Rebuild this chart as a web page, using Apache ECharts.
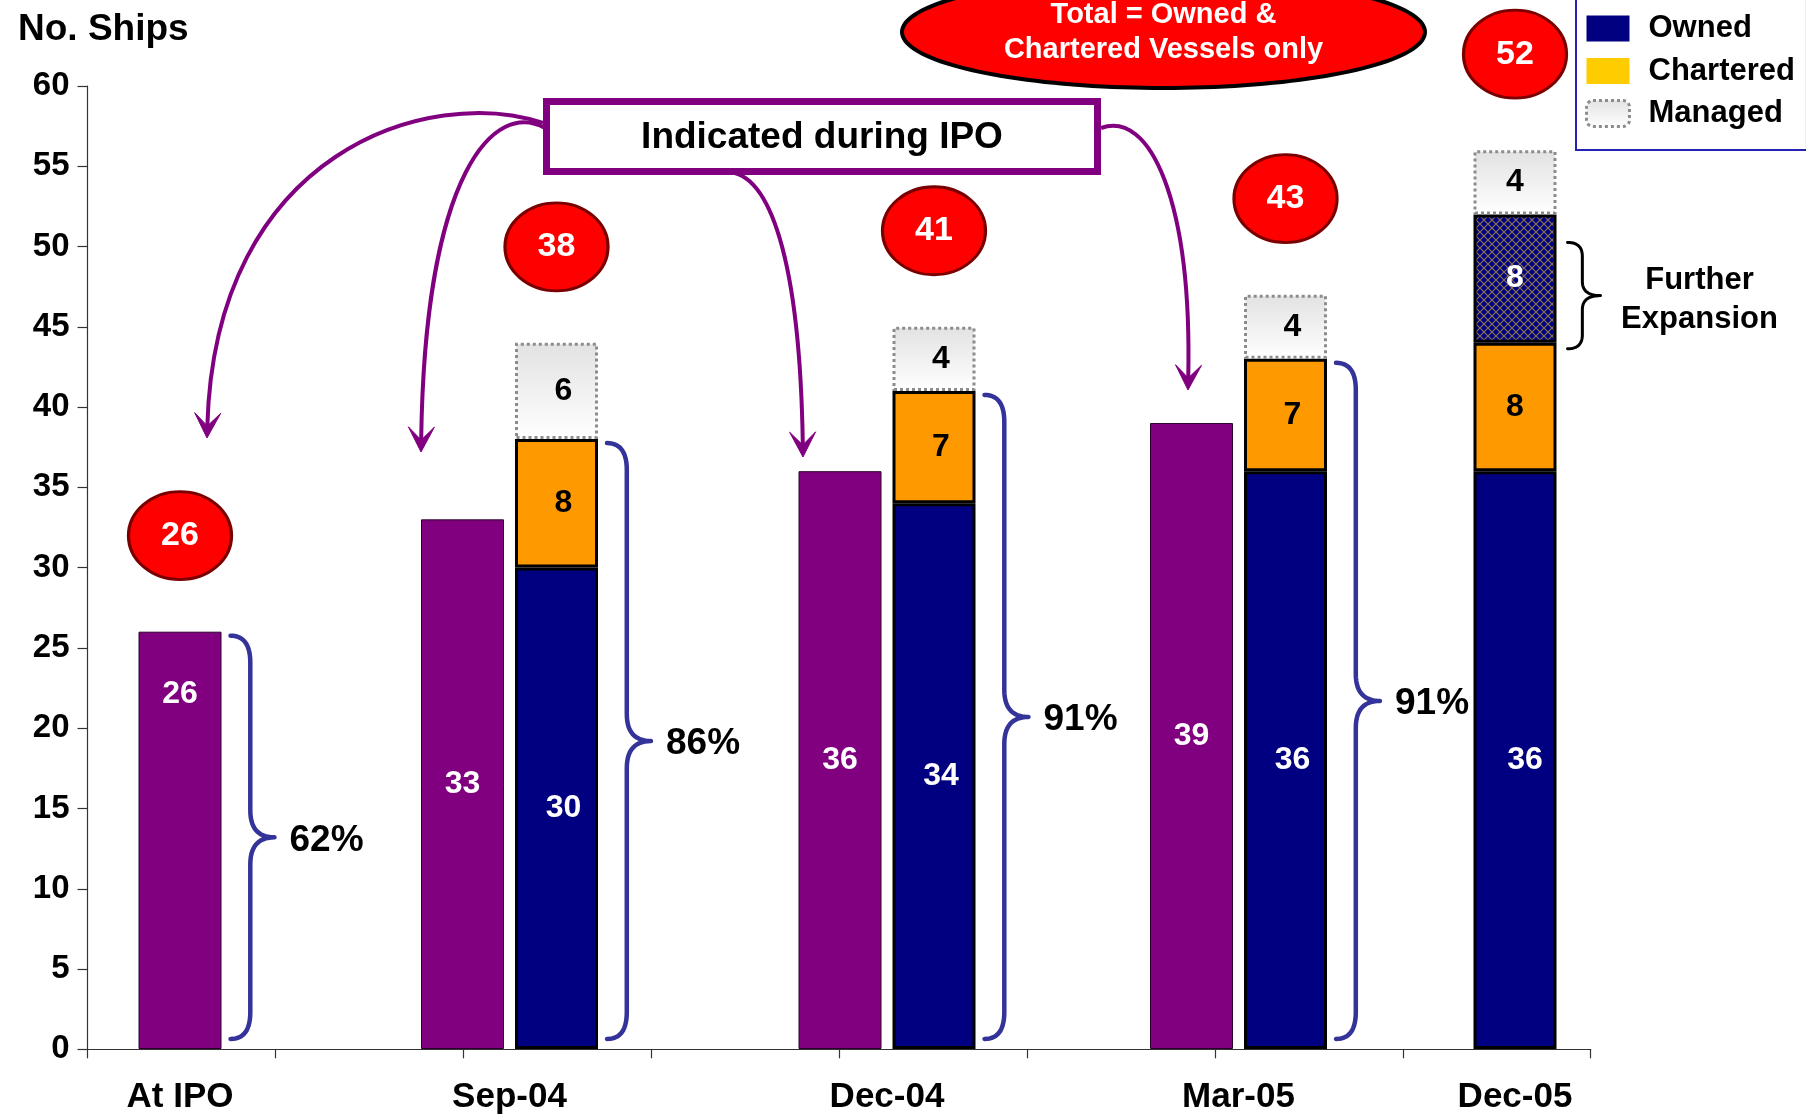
<!DOCTYPE html>
<html>
<head>
<meta charset="utf-8">
<title>No. Ships</title>
<script src="https://cdn.jsdelivr.net/npm/echarts@6/dist/echarts.min.js"></script>
<style>
  html, body { margin: 0; padding: 0; background: #ffffff; }
  #chart { width: 1806px; height: 1115px; }
</style>
</head>
<body>
<div id="chart"></div>
<script>
// ---- data -------------------------------------------------------------
const categories = ['At IPO', 'Sep-04', 'Dec-04', 'Mar-05', 'Dec-05'];
const indicatedDuringIpo = [26, 33, 36, 39, null];
const owned = [null, 30, 34, 36, 36];
const chartered = [null, 8, 7, 7, 8];
const furtherExpansion = [null, null, null, null, 8];
const managed = [null, 6, 4, 4, 4];
const ownedShare = ['62%', '86%', '91%', '91%', null];
const yMin = 0, yMax = 60, yStep = 5;

// ---- layout & style ---------------------------------------------------
const FONT = '"Liberation Sans", Arial, Helvetica, sans-serif';
const PLOT_TOP = 86;
const PLOT_BOTTOM = 1115 - 1049.3;
const BAR_W = 83;
const BAR_GAP = 11;
const SLOT = 300;
// x centre of each date's group of bars (one grid per date)
const groupCentre = [180, 509.5, 887, 1238.5, 1515];
const CIRCLE_LIFT = 96;

const PURPLE = '#800080';
const NAVY = '#000080';
const ORANGE = '#FF9900';
const BRACE_BLUE = '#333399';

const managedFill = {
  type: 'linear', x: 0, y: 0, x2: 0, y2: 1,
  colorStops: [{ offset: 0, color: '#e2e2e2' }, { offset: 1, color: '#ffffff' }]
};

// cross-hatched navy fill for the further-expansion block
const hatch = document.createElement('canvas');
hatch.width = 8; hatch.height = 8;
(function () {
  const c = hatch.getContext('2d');
  c.fillStyle = NAVY; c.fillRect(0, 0, 8, 8);
  c.strokeStyle = '#8a7550'; c.lineWidth = 1.2;
  c.beginPath();
  c.moveTo(0, 0); c.lineTo(8, 8);
  c.moveTo(8, 0); c.lineTo(0, 8);
  c.stroke();
})();

const hasValue = v => v !== null && v !== undefined;
const stackTop = i => hasValue(owned[i])
  ? owned[i] + chartered[i] + (furtherExpansion[i] || 0) + (managed[i] || 0)
  : indicatedDuringIpo[i];
const fleetTotal = i => hasValue(owned[i])
  ? owned[i] + chartered[i] + (furtherExpansion[i] || 0)
  : indicatedDuringIpo[i];

// curly brace opening to the right, sampled as a polyline
function bracePoints(x0, yTop, yBot, w, r) {
  const xv = x0 + w * 0.45, xt = x0 + w, mid = (yTop + yBot) / 2;
  const pts = [];
  const quad = (p0, c, p1) => {
    for (let k = 0; k <= 14; k++) {
      const t = k / 14, u = 1 - t;
      pts.push([u * u * p0[0] + 2 * u * t * c[0] + t * t * p1[0],
                u * u * p0[1] + 2 * u * t * c[1] + t * t * p1[1]]);
    }
  };
  quad([x0, yTop], [xv, yTop], [xv, yTop + r]);
  quad([xv, mid - r], [xv, mid], [xt, mid]);
  quad([xt, mid], [xv, mid], [xv, mid + r]);
  quad([xv, yBot - r], [xv, yBot], [x0, yBot]);
  return pts;
}

const labelBase = { show: true, fontFamily: FONT, fontWeight: 'bold', fontSize: 32 };

// ---- frame grid: y axis and the tick-marked base line -------------------
const grid = [{ left: 87.5, right: 1806 - 1590.7, top: PLOT_TOP, bottom: PLOT_BOTTOM }];
const xAxis = [{
  gridIndex: 0, type: 'value', min: 0, max: 8, interval: 1,
  axisLine: { show: true, lineStyle: { color: '#333333', width: 1.2 } },
  axisTick: { show: true, length: 9, lineStyle: { color: '#333333', width: 1.2 } },
  axisLabel: { show: false }, splitLine: { show: false }
}];
const yAxis = [{
  gridIndex: 0, type: 'value', min: yMin, max: yMax, interval: yStep,
  axisLine: { show: true, lineStyle: { color: '#333333', width: 1.2 } },
  axisTick: { show: true, length: 10, lineStyle: { color: '#333333', width: 1.2 } },
  axisLabel: { fontFamily: FONT, fontSize: 33, fontWeight: 'bold', color: '#000', margin: 18 },
  splitLine: { show: false }
}];
const series = [];

categories.forEach((cat, i) => {
  const g = i + 1;
  const hasIpo = hasValue(indicatedDuringIpo[i]);
  const hasFleet = hasValue(owned[i]);
  const both = hasIpo && hasFleet;
  grid.push({ left: groupCentre[i] - SLOT / 2, width: SLOT, top: PLOT_TOP, bottom: PLOT_BOTTOM });
  xAxis.push({
    gridIndex: g, type: 'category', data: [cat],
    axisLine: { show: false }, axisTick: { show: false },
    axisLabel: { fontFamily: FONT, fontSize: 35, fontWeight: 'bold', color: '#000', margin: 31 }
  });
  yAxis.push({ gridIndex: g, type: 'value', min: yMin, max: yMax, show: false });
  const ax = { xAxisIndex: g, yAxisIndex: g };
  const barCommon = { type: 'bar', barWidth: BAR_W, barGap: (BAR_GAP / BAR_W * 100) + '%', z: 2 };

  if (hasIpo) {
    series.push(Object.assign({}, ax, barCommon, {
      name: 'Indicated during IPO', stack: 'ipo' + i,
      itemStyle: { color: PURPLE, borderColor: '#2b002b', borderWidth: 1 },
      label: Object.assign({}, labelBase, { position: 'inside', color: '#fff' }),
      data: [i === 0
        ? { value: indicatedDuringIpo[i], label: { position: 'insideTop', distance: 46 } }
        : indicatedDuringIpo[i]]
    }));
  }
  if (hasFleet) {
    const fleetLabel = (color, dx) => Object.assign({}, labelBase, { position: 'inside', color, offset: [dx, 0] });
    series.push(Object.assign({}, ax, barCommon, {
      name: 'Owned', stack: 'fleet' + i,
      itemStyle: { color: NAVY, borderColor: '#000', borderWidth: 3 },
      label: fleetLabel('#fff', both ? 7 : 10),
      data: [owned[i]]
    }));
    series.push(Object.assign({}, ax, barCommon, {
      name: 'Chartered', stack: 'fleet' + i,
      itemStyle: { color: ORANGE, borderColor: '#000', borderWidth: 3 },
      label: fleetLabel('#000', both ? 7 : 0),
      data: [chartered[i]]
    }));
    if (hasValue(furtherExpansion[i])) {
      series.push(Object.assign({}, ax, barCommon, {
        name: 'Further Expansion', stack: 'fleet' + i,
        itemStyle: { color: { image: hatch, repeat: 'repeat' }, borderColor: '#000', borderWidth: 3 },
        label: fleetLabel('#fff', 0),
        data: [furtherExpansion[i]]
      }));
    }
    series.push(Object.assign({}, ax, barCommon, {
      name: 'Managed', stack: 'fleet' + i,
      itemStyle: { color: managedFill, borderColor: '#8c8c8c', borderWidth: 3, borderType: 'dotted' },
      label: fleetLabel('#000', both ? 7 : 0),
      data: [managed[i]]
    }));
  }

  // red total badge above the fleet column
  const sideShift = both ? (BAR_GAP + BAR_W) / 2 : 0;
  series.push(Object.assign({}, ax, {
    type: 'scatter', name: 'Total', z: 5, silent: true,
    symbol: 'circle', symbolSize: [103, 88], symbolOffset: [sideShift, -CIRCLE_LIFT],
    itemStyle: { color: '#FF0000', borderColor: '#7a0000', borderWidth: 3, opacity: 1 },
    label: {
      show: true, position: 'inside', color: '#fff', fontFamily: FONT, fontWeight: 'bold', fontSize: 34,
      formatter: () => String(fleetTotal(i))
    },
    data: [stackTop(i)]
  }));

  // brace showing the owned share
  if (ownedShare[i]) {
    const braceTop = hasFleet ? owned[i] + chartered[i] : indicatedDuringIpo[i];
    const rightEdge = both ? BAR_GAP / 2 + BAR_W : BAR_W / 2;
    series.push(Object.assign({}, ax, {
      type: 'custom', name: 'Owned share', z: 3, silent: true, clip: false,
      data: [[0, braceTop]],
      renderItem: (params, api) => {
        const t = api.coord([api.value(0), api.value(1)]);
        const b = api.coord([api.value(0), 0]);
        const x0 = t[0] + rightEdge + 9, w = 44;
        const yTop = t[1] + 4, yBot = b[1] - 10;
        return {
          type: 'group', children: [
            { type: 'polyline', shape: { points: bracePoints(x0, yTop, yBot, w, 27) },
              style: { stroke: BRACE_BLUE, lineWidth: 4.5, fill: 'none', lineJoin: 'round', lineCap: 'round' } },
            { type: 'text', x: x0 + w + 15, y: (yTop + yBot) / 2 + 3,
              style: { text: ownedShare[i], fill: '#000', font: 'bold 37px ' + FONT,
                       align: 'left', verticalAlign: 'middle', textAlign: 'left', textVerticalAlign: 'middle' } }
          ]
        };
      }
    }));
  }

  // brace marking the further-expansion block
  if (hasValue(furtherExpansion[i])) {
    const low = owned[i] + chartered[i];
    const high = low + furtherExpansion[i];
    const rightEdge = both ? BAR_GAP / 2 + BAR_W : BAR_W / 2;
    series.push(Object.assign({}, ax, {
      type: 'custom', name: 'Further Expansion note', z: 3, silent: true, clip: false,
      data: [[0, low, high]],
      renderItem: (params, api) => {
        const lo = api.coord([api.value(0), api.value(1)]);
        const hi = api.coord([api.value(0), api.value(2)]);
        const x0 = lo[0] + rightEdge + 11, w = 33;
        const yTop = hi[1] + 28, yBot = lo[1] + 6;
        return {
          type: 'group', children: [
            { type: 'polyline', shape: { points: bracePoints(x0, yTop, yBot, w, 14) },
              style: { stroke: '#000', lineWidth: 3, fill: 'none', lineJoin: 'round', lineCap: 'round' } },
            { type: 'text', x: x0 + w + 99, y: (yTop + yBot) / 2 + 4,
              style: { text: 'Further\nExpansion', fill: '#000', font: 'bold 31px ' + FONT, lineHeight: 39,
                       align: 'center', verticalAlign: 'middle', textAlign: 'center', textVerticalAlign: 'middle' } }
          ]
        };
      }
    }));
  }
});

// ---- annotations: "Indicated during IPO" call-out with arrows ------------
const ARROW = PURPLE;
const arrowDefs = [
  { p0: [543, 123], c1: [430, 85], c2: [215, 150], tip: [207, 438] },
  { p0: [545, 128], c1: [495, 100], c2: [425, 170], tip: [421, 452] },
  { p0: [725, 172], c1: [770, 170], c2: [800, 260], tip: [803, 457] },
  { p0: [1101, 128], c1: [1150, 110], c2: [1192, 200], tip: [1188, 390] }
];
const graphics = [];
arrowDefs.forEach(a => {
  const dx = a.tip[0] - a.c2[0], dy = a.tip[1] - a.c2[1];
  const len = Math.hypot(dx, dy), ux = dx / len, uy = dy / len;
  const nx = -uy, ny = ux;
  const L = 25, W = 13, N = 12;
  const end = [a.tip[0] - ux * N, a.tip[1] - uy * N];
  graphics.push({
    type: 'bezierCurve', z: 50, silent: true,
    shape: { x1: a.p0[0], y1: a.p0[1], cpx1: a.c1[0], cpy1: a.c1[1], cpx2: a.c2[0], cpy2: a.c2[1], x2: end[0], y2: end[1] },
    style: { stroke: ARROW, lineWidth: 4, fill: 'none' }
  });
  graphics.push({
    type: 'polygon', z: 50, silent: true,
    shape: { points: [
      a.tip,
      [a.tip[0] - ux * L + nx * W, a.tip[1] - uy * L + ny * W],
      [a.tip[0] - ux * N, a.tip[1] - uy * N],
      [a.tip[0] - ux * L - nx * W, a.tip[1] - uy * L - ny * W]
    ] },
    style: { fill: ARROW, stroke: ARROW, lineWidth: 1 }
  });
});
graphics.push({
  type: 'rect', z: 60, silent: true,
  shape: { x: 546.5, y: 101.5, width: 551, height: 70 },
  style: { fill: '#ffffff', stroke: PURPLE, lineWidth: 7 }
});
graphics.push({
  type: 'text', z: 61, silent: true, x: 822, y: 138,
  style: { text: 'Indicated during IPO', fill: '#000', font: 'bold 37px ' + FONT,
           align: 'center', verticalAlign: 'middle', textAlign: 'center', textVerticalAlign: 'middle' }
});

// red note at the top
const notePts = [];
for (let k = 0; k < 160; k++) {
  const t = k / 160 * Math.PI * 2;
  notePts.push([1163.5 + 261.5 * Math.cos(t), 32 + 56 * Math.sin(t)]);
}
graphics.push({
  type: 'polygon', z: 60, silent: true,
  shape: { points: notePts },
  style: { fill: '#FF0000', stroke: '#000000', lineWidth: 4 }
});
graphics.push({
  type: 'text', z: 61, silent: true, x: 1163.5, y: 32,
  style: { text: 'Total = Owned &\nChartered Vessels only', fill: '#fff', font: 'bold 29px ' + FONT, lineHeight: 35,
           align: 'center', verticalAlign: 'middle', textAlign: 'center', textVerticalAlign: 'middle' }
});

// ---- chart --------------------------------------------------------------
const chart = echarts.init(document.getElementById('chart'), null, { renderer: 'canvas' });
chart.setOption({
  animation: false,
  backgroundColor: '#ffffff',
  title: {
    text: 'No. Ships', left: 13, top: 6,
    textStyle: { fontFamily: FONT, fontSize: 37, fontWeight: 'bold', color: '#000' }
  },
  legend: {
    orient: 'vertical', left: 1576, top: -2,
    itemWidth: 43, itemHeight: 26, itemGap: 11.5,
    padding: [15, 12, 21, 9],
    backgroundColor: '#ffffff', borderColor: '#2323b5', borderWidth: 2,
    selectedMode: false,
    textStyle: { fontFamily: FONT, fontSize: 31, fontWeight: 'bold', color: '#000', lineHeight: 30, padding: [0, 0, 0, 14] },
    data: [
      { name: 'Owned', icon: 'rect', itemStyle: { color: NAVY, borderWidth: 0 } },
      { name: 'Chartered', icon: 'rect', itemStyle: { color: '#FFCC00', borderWidth: 0 } },
      { name: 'Managed', icon: 'roundRect',
        itemStyle: { color: managedFill, borderColor: '#8c8c8c', borderWidth: 3, borderType: 'dotted' } }
    ]
  },
  grid: grid,
  xAxis: xAxis,
  yAxis: yAxis,
  series: series,
  graphic: { elements: graphics }
});
</script>
</body>
</html>
